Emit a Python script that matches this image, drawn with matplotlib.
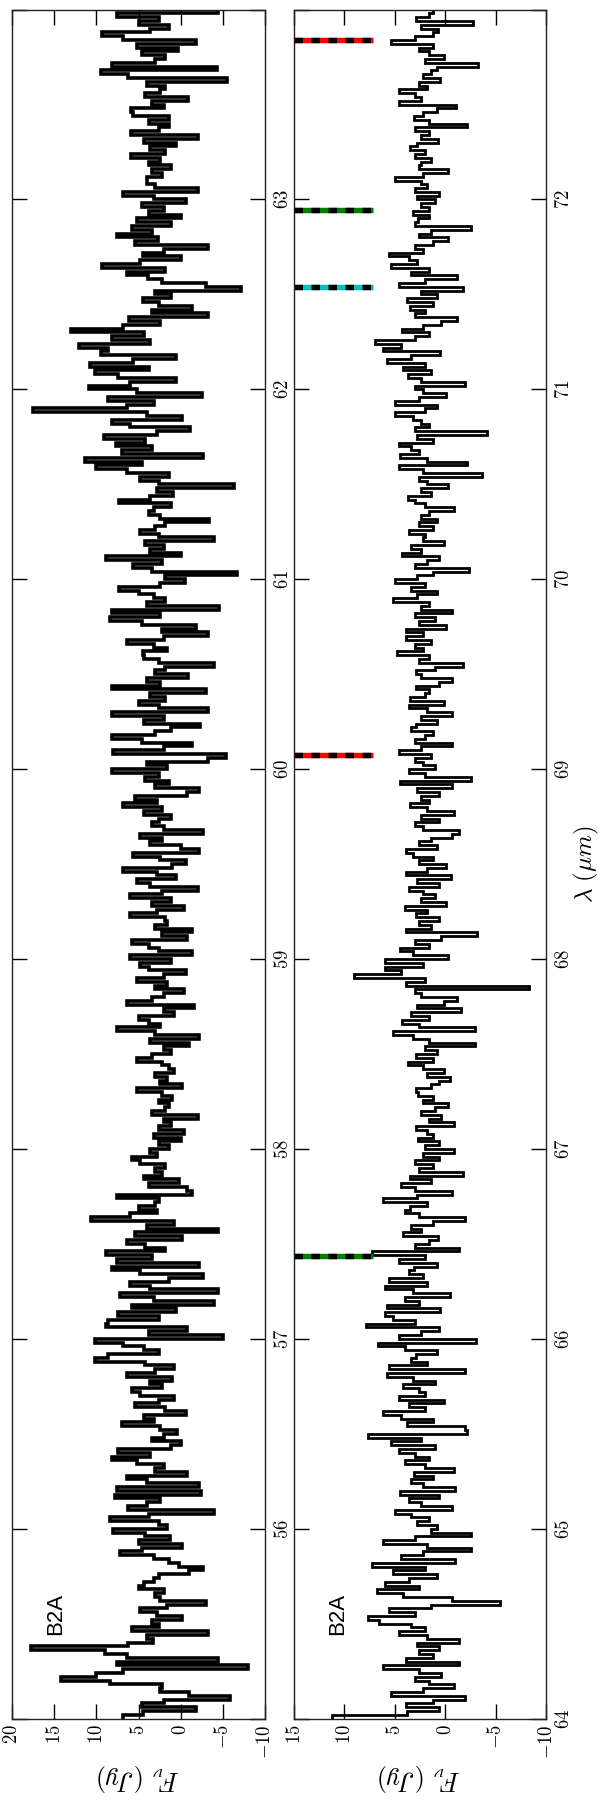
import matplotlib
matplotlib.use("Agg")
import matplotlib.pyplot as plt
import numpy as np

plt.rcParams["mathtext.fontset"] = "cm"

# panel wavelength ranges (micron), bins of 0.02 micron
left_range = (55.0, 64.0)
right_range = (64.0, 73.0)

# flux density (Jy) per bin, 15 bins (0.3 micron) per row
left_flux = [
    6.8, 4.5, -1.8, 4.6, 2.0, -5.8, -1.0, 2.4, 2.2, 8.4, 14.2, 10.0, 6.8, -8.0, 7.6,
    -4.4, 6.4, 9.0, 17.8, 6.2, 3.3, 4.0, -3.2, 5.8, 2.6, 3.4, -0.2, 2.8, 4.8, 1.6,
    -3.0, 2.4, 3.0, 2.0, 5.0, 4.4, 3.2, 2.6, -1.0, -2.6, 0.2, 1.4, 3.2, 7.2, 4.6,
    -0.2, 5.0, 1.3, 4.2, 8.0, 1.6, 2.6, 8.4, 3.8, -4.0, 6.2, 4.0, 2.4, 7.8, -2.4,
    7.6, -2.2, 4.0, 6.4, -0.8, 3.0, 2.0, 5.2, 8.2, 3.6, 7.4, 1.2, 0.0, 3.4, 2.0,
    0.4, 2.4, 7.0, 3.2, 4.4, -0.6, 1.8, 5.4, 2.6, 0.8, 4.8, 5.8, 2.2, 3.6, 1.0,
    6.4, 3.0, 0.8, 4.2, 10.2, 8.6, 2.6, 4.4, 6.8, 10.2, -5.0, 3.8, -0.8, 8.8, 8.6,
    2.6, 7.4, 0.6, 5.8, -4.0, 3.2, 7.2, -4.4, 3.6, 6.0, 1.4, -2.6, 4.8, 8.2, -2.2,
    7.6, 3.4, 8.8, 1.8, 4.2, 6.4, -0.2, 5.4, -4.4, 4.0, 0.8, 10.6, 6.0, 2.8, 5.0,
    3.0, 2.6, 7.6, -1.4, -0.8, 3.8, 0.2, 4.4, 2.2, 3.0, 1.8, 4.8, 5.8, 2.8, 3.6,
    1.4, 2.6, 0.0, 3.2, -0.4, 2.6, 1.2, 2.0, -2.0, 3.4, 1.8, 1.4, 2.6, 1.0, 2.2,
    5.2, -0.2, 2.4, 1.6, 3.0, 0.8, 1.4, 2.2, 5.2, 3.4, 1.2, 2.0, -1.0, 3.6, -2.2,
    3.0, 7.6, 2.4, 3.8, 5.0, 0.8, 2.0, -1.6, 6.4, 3.4, 2.0, -0.4, 3.0, 1.6, 5.2,
    2.0, -0.6, 3.8, 4.8, 1.2, 6.0, -1.4, 2.6, 3.8, 5.8, -0.8, 2.2, -1.4, 3.0, 1.6,
    1.8, 6.0, 2.8, -0.4, 3.4, 1.2, 6.0, 2.2, -2.0, 3.6, 5.2, 0.6, 2.8, 6.8, 1.0,
    -0.6, 2.4, 5.6, -2.2, 0.0, 3.6, 2.2, 4.8, -2.6, 2.0, 3.4, 2.6, 1.2, 4.4, 2.2,
    6.8, 2.8, 5.4, -0.8, -2.2, 3.0, 1.4, 4.2, 2.6, 8.2, 1.6, 4.0, -3.2, -5.4, 8.0,
    2.0, -1.4, 4.6, 8.2, 3.0, 1.2, -2.3, 4.4, 2.0, 8.2, -3.2, 2.6, 5.0, 1.8, 3.6,
    -3.0, 8.2, 2.4, 4.0, -0.9, 3.0, 1.8, -3.9, 2.6, 4.4, 4.5, 1.6, 3.2, 6.4, 2.0,
    -3.2, 2.2, -1.8, 4.6, 8.4, 2.4, 8.2, -4.5, 4.0, 1.8, 3.2, 5.0, 7.3, 2.4, -0.5,
    1.8, -6.7, 3.4, 5.7, 2.2, 8.9, 0.0, 3.6, 2.0, 4.2, -3.9, 2.6, 4.8, 3.0, 1.8,
    -3.4, 2.4, 3.8, 3.2, 1.2, 7.3, 3.6, 0.9, 2.8, -6.3, 2.6, 4.8, 1.4, 6.4, 10.0,
    4.6, 11.4, -2.6, 7.0, 3.4, 7.7, 4.2, 9.1, 2.8, -1.1, 6.0, 8.2, -0.2, 4.0, 17.5,
    6.4, 3.2, 8.6, -2.5, 5.2, 10.9, 6.0, 0.5, 7.4, 10.2, 3.8, 10.7, 5.6, 0.5, 9.4,
    8.6, 12.0, 3.6, 8.2, 4.3, 13.0, 6.8, 2.4, 6.1, -3.2, 3.4, -1.4, 2.6, 4.5, 1.2,
    3.0, -7.2, -3.0, 2.2, 3.9, 6.4, 1.8, 9.3, 4.8, 0.0, 4.5, 2.0, -3.2, 5.4, 2.7,
    7.5, 3.4, 5.8, 1.2, 5.2, 0.0, 3.8, 2.0, 4.6, -0.6, 3.2, 6.8, -2.0, 3.0, 4.0,
    4.0, 2.2, 3.4, 1.1, 3.8, 2.4, 5.9, 1.8, 3.6, 0.6, 4.4, -2.0, 5.9, 2.6, 1.4,
    3.8, 1.4, 5.6, 5.9, 2.0, 3.4, -0.9, 4.2, 2.4, 1.8, 4.0, -5.5, 6.2, 9.5, -4.3,
    8.2, 3.0, 1.8, 4.6, 0.3, 5.2, -1.8, 6.8, 9.3, 3.6, 1.4, 5.0, 2.6, 7.5, -4.4,
]

right_flux = [
    11.2, 3.8, 0.6, 3.9, 1.2, -2.0, 5.4, 2.2, -0.9, 1.6, 3.0, 0.4, 2.6, 6.2, -1.4,
    3.9, 1.2, 2.6, 0.6, 2.8, -1.4, 1.8, 4.6, 2.0, 3.4, 6.6, 7.7, 3.0, 5.6, 1.4,
    -5.4, -0.7, 4.2, 6.8, 2.6, 6.0, 3.6, 0.8, 5.2, 2.0, 7.3, -1.0, 4.4, 2.2, -2.6,
    1.8, 6.2, 3.0, -2.6, 1.4, 0.8, 2.8, 1.6, 3.4, 5.0, -0.7, 2.4, 3.6, 0.6, 4.5,
    -1.0, 2.2, 3.4, 1.2, 3.1, -0.9, 2.0, 4.0, 1.6, 3.0, 4.6, 1.0, 5.4, 2.4, 7.7,
    -2.2, -2.0, 3.8, 1.2, 4.4, 6.2, 2.0, 3.6, 0.1, 4.6, 2.0, 2.6, 4.2, 1.0, 3.2,
    5.8, -2.0, 5.6, 1.8, 3.4, 2.9, 0.8, 4.0, 6.7, -3.1, 4.6, 2.4, 0.6, 7.9, 3.0,
    5.2, 6.0, 0.5, 5.8, 2.6, 4.0, -0.5, 3.2, 6.0, 1.8, 5.6, 2.2, 3.6, 3.1, 0.8,
    4.6, 2.0, 7.3, -1.4, 3.0, 1.6, 0.7, 4.2, 2.4, 3.4, 1.2, -2.0, 2.6, 4.0, 3.5,
    1.8, 6.2, 2.8, -0.7, 3.0, 4.4, 1.4, 3.5, -1.8, 2.6, 1.2, 3.0, 0.6, 2.2, -0.9,
    2.0, 0.6, 2.7, 1.2, 1.8, 2.9, -0.9, 1.6, 0.4, 2.4, 1.0, -0.3, 2.2, 1.2, 2.7,
    2.9, 1.4, 0.6, -0.5, 1.8, 0.1, 2.2, 3.7, 1.2, 2.9, 0.8, 2.0, -3.0, 1.6, 3.2,
    5.2, -3.0, 2.6, 4.3, 1.6, 3.4, -1.6, 2.8, 0.1, -1.2, 2.4, 3.0, -8.3, 3.9, 2.0,
    9.0, 4.4, 6.0, 2.2, 6.0, -0.3, 3.2, 4.5, 1.6, 3.0, 0.4, -3.2, 3.9, 1.4, 2.6,
    0.6, 2.9, 1.8, 4.0, -0.1, 2.4, 1.0, 2.2, 3.6, 0.6, 2.8, -0.6, 3.9, 1.8, -0.1,
    2.6, 1.2, 3.2, 3.9, 0.8, 2.6, 1.4, -0.7, -1.4, 2.2, 3.0, 0.6, 2.4, -0.9, 1.8,
    3.5, 1.6, 2.4, 0.6, 2.8, -0.7, 4.5, -2.6, 2.0, 3.6, 1.0, 2.2, 3.0, 1.4, 4.6,
    2.4, -0.7, 3.0, 2.0, 1.2, 3.4, 2.9, 0.8, 2.4, -0.7, 1.8, 3.6, 0.1, 3.5, 2.0,
    1.6, 2.9, 0.6, -0.7, 2.4, 2.9, 1.0, -1.8, 2.6, 1.6, 4.8, 2.2, 3.0, 1.4, 3.9,
    2.2, 3.9, -0.1, 2.6, 1.0, 3.0, -0.7, 2.4, 1.6, 5.2, 2.8, 0.8, 3.4, 2.0, 5.0,
    2.8, 1.2, -2.4, 3.0, 1.8, 0.6, 4.3, 2.4, 3.4, 0.1, 2.2, 2.0, 3.6, 1.2, 2.6,
    0.8, 2.4, 1.6, -0.9, 2.0, 3.0, 3.7, 1.4, 2.4, -0.3, 1.8, 2.6, -3.7, 2.2, 4.6,
    -2.2, 1.8, 4.5, 2.6, 3.4, 4.6, 1.2, 2.8, -4.1, 3.0, 1.6, 2.4, 3.2, 5.0, 2.0,
    0.8, 5.0, 2.6, -0.1, 2.2, 3.0, -2.0, 2.4, 3.7, 1.4, 4.2, 2.0, 5.8, 3.4, 0.5,
    6.2, 4.4, 7.0, 3.0, 1.6, 4.3, 2.2, 0.4, -1.2, 3.0, 2.0, 3.5, 1.2, 3.8, 0.8,
    2.4, -1.8, 4.6, 2.0, -1.2, 3.4, 1.6, 5.4, 2.8, 3.6, 5.6, 2.2, 3.0, 1.2, -0.3,
    2.6, 1.4, -2.6, 3.0, 2.7, 1.6, 3.2, 1.6, 2.4, 1.0, 2.8, 0.6, 3.0, 1.8, 2.4,
    5.0, 2.2, -0.3, 2.6, 2.4, 1.4, 3.0, 2.0, 3.5, 2.8, 0.7, 2.4, 1.6, 3.0, -2.2,
    1.6, 3.1, 2.2, 0.8, -1.1, 4.6, 2.4, 3.0, 4.6, 1.8, 2.6, 0.5, 2.2, 1.4, 0.8,
    -3.3, 2.0, 0.1, 1.6, 2.6, 1.2, 5.4, 3.0, 1.2, 0.7, 2.4, -2.8, 2.9, 1.6, 1.2,
]

# line identifications marked in the second panel
line_waves = [72.84, 71.947, 71.54, 69.077, 66.437]
line_colors = ["r", "g", "c", "r", "g"]
line_flux_end = 7.2

label_text = "B2A"


def setup_axes(ax, flux_lim, wave_lim, wave_labels, flux_ticks):
    ax.set_xlim(flux_lim)
    ax.set_ylim(wave_lim)
    ax.set_xticks(flux_ticks)
    ax.set_xticklabels([r"$%d$" % t for t in flux_ticks])
    wticks = np.arange(wave_lim[0], wave_lim[1] + 0.5, 1.0)
    ax.set_yticks(wticks)
    ax.set_yticklabels([r"$%d$" % t if int(t) in wave_labels else "" for t in wticks])
    ax.tick_params(axis="both", direction="in", length=10.5, width=1.0,
                   top=True, bottom=True, left=True, right=True,
                   labelleft=False, labelright=True, labelsize=13.5)
    ax.tick_params(axis="x", labelrotation=90, pad=4)
    ax.tick_params(axis="y", labelrotation=90, pad=6)
    for lab in ax.get_yticklabels():
        lab.set_va("center")
    for sp in ax.spines.values():
        sp.set_linewidth(1.0)
        sp.set_color("#222222")
    ax.set_xlabel(r"$F_{\nu}\ (Jy)$", fontsize=19, rotation=180, labelpad=2)


fig = plt.figure(figsize=(6, 18), dpi=100)
ax1 = fig.add_axes([12 / 600, 81.4 / 1800, 253 / 600, 1709 / 1800])
ax2 = fig.add_axes([294 / 600, 81.4 / 1800, 252 / 600, 1709 / 1800])

edges1 = np.linspace(left_range[0], left_range[1], len(left_flux) + 1)
edges2 = np.linspace(right_range[0], right_range[1], len(right_flux) + 1)

ax1.stairs(left_flux, edges1, orientation="horizontal", baseline=None,
           color="k", lw=2.6)
ax2.stairs(right_flux, edges2, orientation="horizontal", baseline=None,
           color="k", lw=2.0)

for w, c in zip(line_waves, line_colors):
    ax2.plot([15, line_flux_end], [w, w], color=c, lw=3.9,
             solid_capstyle="butt", zorder=3)
    ax2.plot([15, line_flux_end], [w, w], color="k", lw=3.9,
             dashes=(1.57, 1.57), dash_capstyle="butt", zorder=4)

setup_axes(ax1, (20, -10), left_range, range(56, 64), [20, 15, 10, 5, 0, -5, -10])
setup_axes(ax2, (15, -10), right_range, range(64, 73), [15, 10, 5, 0, -5, -10])

ax1.text(14.8, 55.55, label_text, rotation=90, fontsize=16,
         family="Liberation Sans", ha="center", va="center")
ax2.text(10.7, 64.55, label_text, rotation=90, fontsize=16,
         family="Liberation Sans", ha="center", va="center")

ax2.yaxis.set_label_position("right")
ax2.set_ylabel(r"$\lambda\ (\mu m)$", fontsize=18, rotation=90, labelpad=-1)

fig.savefig("out.png", dpi=100)
